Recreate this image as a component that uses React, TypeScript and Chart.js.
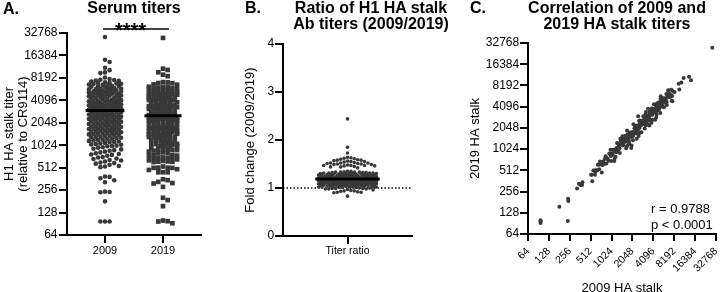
import React, { useEffect, useRef } from 'react';
import { Chart, registerables } from 'chart.js';

Chart.register(...registerables);

const FONT = "'Liberation Sans', Arial, Helvetica, sans-serif";
const INK = '#383838';

// ---------- data ----------
const groupLabels = ['2009', '2019'];
const ratioLabel = 'Titer ratio';
const titerTicks = [64, 128, 256, 512, 1024, 2048, 4096, 8192, 16384, 32768];
const foldTicks = [0, 1, 2, 3, 4];

// H1 HA stalk titers in 2009 (one per subject)
const titers2009 = [
  29000, 14300, 13400, 11200, 10400, 9700, 9500, 8300,
  7900, 7650, 7480, 7300, 7720, 6980, 6850, 7150, 6600, 6420,
  6760, 6230, 6050, 6310, 5900, 5840, 7050, 6500, 6120, 5980,
  7560, 6680, 6900, 5820, 6370,
  5700, 5620, 5480, 5390, 5250, 5160, 5050, 4980, 4870, 4760,
  4690, 4580, 4470, 4390, 4290, 4180, 4120, 5560, 5310, 5090,
  4820, 4630, 4350, 4220, 5740, 5420, 5200, 4930, 4710, 4510,
  4150, 5650, 5010, 4440, 4850, 5330,
  4050, 3980, 3890, 3820, 3740, 3660, 3590, 3510, 3440, 3370,
  3300, 3240, 3170, 3110, 3050, 2990, 2940, 4010, 3850, 3700,
  3550, 3400, 3270, 3140, 3020, 3930, 3780, 3620, 3480, 3330,
  3200, 2920, 3080, 3690, 3560, 3950, 3420, 3180,
  2870, 2810, 2760, 2700, 2650, 2590, 2540, 2480, 2430, 2380,
  2320, 2270, 2220, 2170, 2120, 2080, 2850, 2730, 2620, 2510,
  2400, 2300, 2190, 2100, 2790, 2560, 2350, 2150, 2680, 2460,
  2240, 2060, 2880, 2600, 2410, 2200,
  2020, 1970, 1920, 1860, 1810, 1760, 1710, 1660, 1620, 1570,
  1530, 1490, 1460, 1990, 1890, 1780, 1690, 1590, 1510, 1950,
  1840, 1730, 1640, 1550, 1470, 2000, 1800, 1600, 1900, 1700,
  1500, 1750,
  1430, 1390, 1350, 1310, 1270, 1230, 1190, 1150, 1120, 1080,
  1050, 1410, 1330, 1250, 1170, 1100, 1040, 1370, 1290, 1210,
  1130, 1060, 1440, 1200, 1320,
  1000, 960, 920, 880, 840, 800, 770, 740, 990, 900,
  820, 760, 950, 860, 780, 1010,
  710, 680, 650, 620, 590, 560, 530, 700, 640, 580,
  540, 670, 600, 520,
  390, 385, 370, 347, 326, 242, 240, 244, 181, 97,
  97, 97,
];

// fold change 2009/2019 for the same subjects
const foldChange = [
  1.03, 1.47, 1.23, 1.07, 1.15, 1.35, 1.10, 1.25,
  1.18, 1.32, 1.05, 1.22, 1.58, 1.12, 0.98, 1.27, 1.16, 1.49,
  1.09, 1.21, 1.30, 1.02, 1.14, 1.45, 1.19, 1.07, 1.26, 1.11,
  1.52, 0.96, 1.24, 1.17, 1.33,
  1.20, 1.08, 1.29, 1.15, 0.91, 1.55, 1.23, 1.11, 1.04, 1.31,
  1.17, 1.44, 1.06, 1.25, 1.13, 0.94, 1.21, 1.35, 1.09, 1.28,
  1.16, 1.02, 1.63, 1.19, 1.12, 1.26, 0.99, 1.33, 1.14, 1.57,
  1.22, 1.05, 1.18, 1.30, 1.10, 1.24,
  1.13, 1.27, 1.01, 1.51, 1.19, 1.08, 1.62, 1.22, 0.90, 1.31,
  1.15, 1.04, 1.42, 1.20, 1.10, 1.28, 0.98, 1.17, 1.59, 1.06,
  1.24, 1.48, 1.12, 1.00, 1.21, 1.47, 1.14, 1.07, 1.29, 1.18,
  0.93, 1.25, 1.54, 1.11, 1.16, 1.03, 1.23, 1.32,
  1.21, 1.09, 1.56, 1.16, 1.02, 1.27, 1.13, 0.83, 1.44, 1.19,
  1.06, 1.30, 1.11, 1.24, 0.92, 1.52, 1.15, 1.22, 1.05, 1.60,
  1.18, 1.26, 1.08, 1.33, 1.12, 0.99, 1.64, 1.20, 1.14, 1.29,
  1.04, 1.17, 1.23, 1.50, 1.10, 1.28,
  1.14, 1.85, 1.25, 1.07, 1.32, 1.18, 0.91, 1.58, 1.11, 1.22,
  1.03, 1.29, 1.16, 1.73, 1.09, 1.49, 1.20, 1.01, 1.27, 1.13,
  1.46, 1.05, 1.24, 1.17, 0.94, 1.31, 1.12, 1.21, 1.08, 1.53,
  1.15, 1.26,
  1.19, 1.06, 1.50, 1.12, 1.23, 0.98, 1.29, 1.15, 1.61, 1.08,
  1.21, 1.01, 1.26, 1.17, 1.47, 1.10, 1.24, 0.95, 1.30, 1.14,
  1.52, 1.18, 1.05, 1.27, 1.13,
  1.22, 1.09, 1.31, 1.16, 1.04, 1.27, 1.13, 1.55, 0.99, 1.20,
  1.11, 1.25, 1.07, 1.34, 1.18, 1.46,
  1.15, 1.28, 1.06, 1.21, 1.33, 1.10, 1.19, 1.02, 1.25, 1.14,
  1.51, 1.08, 1.23, 1.17,
  1.12, 1.21, 1.18, 1.05, 1.15, 1.20, 2.44, 1.30, 1.16, 1.00,
  0.97, 1.06,
];

// 2019 titers follow from the 2009 titers and the fold change
const titers2019 = titers2009.map((v, i) => Math.round(v / foldChange[i]));

const center2009 = 3000;
const center2019 = 2540;
const centerFold = 1.19;
const significance = '****';
const corrLines = ['r = 0.9788', 'p < 0.0001'];

// ---------- helpers ----------
function fixSize(prop: 'width' | 'height', size: number) {
  return (s: any) => {
    s[prop] = size;
    s.paddingLeft = 0;
    s.paddingRight = 0;
    s.paddingTop = 0;
    s.paddingBottom = 0;
  };
}

function axisBase(fontSize: number, tickLength: number, padding: number) {
  return {
    border: { display: true, color: '#000', width: 2 },
    grid: {
      display: true,
      drawOnChartArea: false,
      drawTicks: true,
      tickLength,
      tickColor: '#000',
      tickWidth: 2,
      color: '#000',
      lineWidth: 2,
    },
    ticks: {
      color: '#000',
      font: { family: FONT, size: fontSize },
      padding,
      autoSkip: false,
    } as any,
  };
}

function swarm(py: number[], size: number, half: number, square: boolean): number[] {
  const order = py.map((_, i) => i).sort((a, b) => py[a] - py[b] || a - b);
  const step = size / 2;
  const cands: number[] = [0];
  for (let k = 1; k * step <= half + 1e-6; k++) cands.push(k * step, -k * step);
  const placed: [number, number][] = [];
  const out: number[] = new Array(py.length).fill(0);
  for (const i of order) {
    const y = py[i];
    let best = 0;
    let bestD = -1;
    for (const c of cands) {
      let minD = Infinity;
      for (const p of placed) {
        const dy = Math.abs(p[1] - y);
        if (dy >= size) continue;
        const dx = Math.abs(p[0] - c);
        const d = square ? Math.max(dx, dy) : Math.hypot(dx, dy);
        if (d < minD) minD = d;
      }
      if (minD >= size) {
        best = c;
        break;
      }
      if (minD > bestD + 1e-9) {
        bestD = minD;
        best = c;
      }
    }
    placed.push([best, y]);
    out[i] = best;
  }
  return out;
}

const baseOptions = {
  responsive: false,
  animation: false as const,
  events: [] as any[],
  plugins: { legend: { display: false }, tooltip: { enabled: false } },
};

// ---------- panel A ----------
const sigPlugin = {
  id: 'sigBar',
  afterDatasetsDraw(chart: any) {
    const { ctx, chartArea, scales } = chart;
    const x0 = scales.x.getPixelForValue(0.966);
    const x1 = scales.x.getPixelForValue(2.103);
    const y = chartArea.top - 4;
    ctx.save();
    ctx.strokeStyle = '#000';
    ctx.lineWidth = 1.3;
    ctx.beginPath();
    ctx.moveTo(x0, y);
    ctx.lineTo(x1, y);
    ctx.stroke();
    ctx.fillStyle = '#000';
    ctx.font = `bold 20px ${FONT}`;
    ctx.textAlign = 'center';
    ctx.textBaseline = 'alphabetic';
    ctx.fillText(significance, scales.x.getPixelForValue(1.44), y + 8.3);
    ctx.restore();
  },
};

function buildA(canvas: HTMLCanvasElement) {
  const chart = new Chart(canvas, {
    type: 'scatter',
    data: {
      datasets: [
        {
          data: [{ x: 1 - 0.335, y: center2009 }, { x: 1 + 0.335, y: center2009 }],
          showLine: true, borderColor: '#000', borderWidth: 3, pointRadius: 0, clip: false,
        } as any,
        {
          data: [{ x: 2 - 0.32, y: center2019 }, { x: 2 + 0.32, y: center2019 }],
          showLine: true, borderColor: '#000', borderWidth: 3, pointRadius: 0, clip: false,
        },
        {
          data: titers2009.map((v) => ({ x: 1, y: v })),
          pointRadius: 2.3, pointStyle: 'circle', backgroundColor: INK, borderWidth: 0, clip: false,
        },
        {
          data: titers2019.map((v) => ({ x: 2, y: v })),
          pointRadius: 3.3, pointStyle: 'rect', backgroundColor: INK, borderWidth: 0, clip: false,
        },
      ],
    },
    options: {
      ...baseOptions,
      layout: { padding: { left: 0, top: 33, right: 39, bottom: 0 } },
      scales: {
        x: {
          type: 'linear', min: 0.345, max: 2.655,
          ...axisBase(11, 8, 1.4),
          afterBuildTicks: (s: any) => { s.ticks = [{ value: 1 }, { value: 2 }]; },
          ticks: { ...axisBase(11, 8, 1.4).ticks, callback: (v: any) => groupLabels[Math.round(v) - 1] },
          afterFit: fixSize('height', 57),
        },
        y: {
          type: 'logarithmic', min: 64, max: 32768,
          ...axisBase(12, 8, 1.5),
          afterBuildTicks: (s: any) => { s.ticks = titerTicks.map((value) => ({ value })); },
          ticks: { ...axisBase(12, 8, 1.5).ticks, callback: (v: any) => String(v) },
          title: {
            display: true,
            text: ['H1 HA stalk titer', '(relative to CR9114)'],
            color: '#000',
            font: { family: FONT, size: 13, lineHeight: 1.08 },
            padding: { top: 2.5, bottom: 0 },
          },
          afterFit: fixSize('width', 67),
        },
      },
    } as any,
    plugins: [sigPlugin],
  });
  const xs: any = chart.scales.x;
  const ys: any = chart.scales.y;
  const ppu = xs.getPixelForValue(2) - xs.getPixelForValue(1);
  const o1 = swarm(titers2009.map((v) => ys.getPixelForValue(v)), 4.6, 17, false);
  const o2 = swarm(titers2019.map((v) => ys.getPixelForValue(v)), 4.7, 16, true);
  chart.data.datasets[2].data = titers2009.map((v, i) => ({ x: 1 + o1[i] / ppu, y: v }));
  chart.data.datasets[3].data = titers2019.map((v, i) => ({ x: 2 + o2[i] / ppu, y: v }));
  chart.update();
  return chart;
}

// ---------- panel B ----------
function buildB(canvas: HTMLCanvasElement) {
  const chart = new Chart(canvas, {
    type: 'scatter',
    data: {
      datasets: [
        {
          data: [{ x: -0.5, y: centerFold }, { x: 0.5, y: centerFold }],
          showLine: true, borderColor: '#000', borderWidth: 3, pointRadius: 0, clip: false,
        } as any,
        {
          data: foldChange.map((v) => ({ x: 0, y: v })),
          pointRadius: 1.8, pointStyle: 'circle', backgroundColor: INK, borderWidth: 0, clip: false,
        },
        {
          data: [{ x: -1, y: 1 }, { x: 1, y: 1 }],
          showLine: true, borderColor: '#000', borderWidth: 1.5, borderDash: [1.5, 2], pointRadius: 0, clip: false,
        },
      ],
    },
    options: {
      ...baseOptions,
      layout: { padding: { left: 0, top: 44, right: 54, bottom: 0 } },
      scales: {
        x: {
          type: 'linear', min: -1, max: 1,
          ...axisBase(10.5, 8, 0.7),
          afterBuildTicks: (s: any) => { s.ticks = [{ value: 0 }]; },
          ticks: { ...axisBase(10.5, 8, 0.7).ticks, callback: () => ratioLabel },
          afterFit: fixSize('height', 56),
        },
        y: {
          type: 'linear', min: 0, max: 4,
          ...axisBase(12, 8, 0.8),
          afterBuildTicks: (s: any) => { s.ticks = foldTicks.map((value) => ({ value })); },
          ticks: { ...axisBase(12, 8, 0.8).ticks, callback: (v: any) => String(v) },
          title: {
            display: true,
            text: 'Fold change (2009/2019)',
            color: '#000',
            font: { family: FONT, size: 13 },
            padding: { top: 2.7, bottom: 0 },
          },
          afterFit: fixSize('width', 43),
        },
      },
    } as any,
  });
  const xs: any = chart.scales.x;
  const ys: any = chart.scales.y;
  const ppu = xs.getPixelForValue(1) - xs.getPixelForValue(0);
  const o = swarm(foldChange.map((v) => ys.getPixelForValue(v)), 3.4, 30, false);
  chart.data.datasets[1].data = foldChange.map((v, i) => ({ x: o[i] / ppu, y: v }));
  chart.update();
  return chart;
}

// ---------- panel C ----------
const corrPlugin = {
  id: 'corrText',
  afterDatasetsDraw(chart: any) {
    const { ctx, chartArea } = chart;
    ctx.save();
    ctx.fillStyle = '#000';
    ctx.font = `13px ${FONT}`;
    ctx.textAlign = 'left';
    ctx.textBaseline = 'alphabetic';
    ctx.fillText(corrLines[0], chartArea.right - 65, chartArea.bottom - 21.3);
    ctx.fillText(corrLines[1], chartArea.right - 65, chartArea.bottom - 4.7);
    ctx.restore();
  },
};

function buildC(canvas: HTMLCanvasElement) {
  return new Chart(canvas, {
    type: 'scatter',
    data: {
      datasets: [
        {
          data: titers2009.map((v, i) => ({ x: v, y: titers2019[i] })),
          pointRadius: 2, pointStyle: 'circle', backgroundColor: INK, borderWidth: 0, clip: false,
        } as any,
      ],
    },
    options: {
      ...baseOptions,
      layout: { padding: { left: 0, top: 43, right: 2, bottom: 0 } },
      scales: {
        x: {
          type: 'logarithmic', min: 64, max: 32768,
          ...axisBase(10.5, 7, 4),
          afterBuildTicks: (s: any) => { s.ticks = titerTicks.map((value) => ({ value })); },
          afterCalculateLabelRotation: (s: any) => { s.labelRotation = 45; },
          ticks: { ...axisBase(10.5, 7, 4).ticks, minRotation: 45, maxRotation: 45, callback: (v: any) => String(v) },
          title: {
            display: true,
            text: '2009 HA stalk',
            color: '#000',
            font: { family: FONT, size: 13 },
            padding: { top: 0, bottom: -3.9 },
          },
          afterFit: fixSize('height', 58),
        },
        y: {
          type: 'logarithmic', min: 64, max: 32768,
          ...axisBase(12, 8, 0.8),
          afterBuildTicks: (s: any) => { s.ticks = titerTicks.map((value) => ({ value })); },
          ticks: { ...axisBase(12, 8, 0.8).ticks, callback: (v: any) => String(v) },
          title: {
            display: true,
            text: '2019 HA stalk',
            color: '#000',
            font: { family: FONT, size: 13 },
            padding: { top: 1.2, bottom: 0 },
          },
          afterFit: fixSize('width', 62),
        },
      },
    } as any,
    plugins: [corrPlugin],
  });
}

// ---------- components ----------
function Panel({ left, width, build }: { left: number; width: number; build: (c: HTMLCanvasElement) => Chart }) {
  const ref = useRef<HTMLCanvasElement>(null);
  useEffect(() => {
    const chart = build(ref.current as HTMLCanvasElement);
    return () => chart.destroy();
  }, []);
  return (
    <canvas
      ref={ref}
      width={width}
      height={292}
      style={{ position: 'absolute', left, top: 0, width, height: 292, display: 'block' }}
    />
  );
}

const headStyle = (left: number, width: number, top: number, align: 'left' | 'center'): React.CSSProperties => ({
  position: 'absolute',
  left,
  top,
  width,
  textAlign: align,
  font: `bold 16px ${FONT}`,
  lineHeight: '16px',
  color: '#000',
  whiteSpace: 'nowrap',
});

export default function App() {
  return (
    <div style={{ position: 'absolute', left: 0, top: 0, width: 720, height: 292, background: '#fff', overflow: 'hidden', fontFamily: FONT }}>
      <Panel left={0} width={240} build={buildA} />
      <Panel left={240} width={226} build={buildB} />
      <Panel left={466} width={254} build={buildC} />
      <div style={headStyle(3, 30, 1, 'left')}>A.</div>
      <div style={headStyle(34, 200, 0, 'center')}>Serum titers</div>
      <div style={headStyle(245, 30, 0, 'left')}>B.</div>
      <div style={headStyle(271, 200, 0, 'center')}>
        Ratio of H1 HA stalk
        <br />
        Ab titers (2009/2019)
      </div>
      <div style={headStyle(470, 30, 0, 'left')}>C.</div>
      <div style={headStyle(517, 200, 0, 'center')}>
        Correlation of 2009 and
        <br />
        2019 HA stalk titers
      </div>
    </div>
  );
}
